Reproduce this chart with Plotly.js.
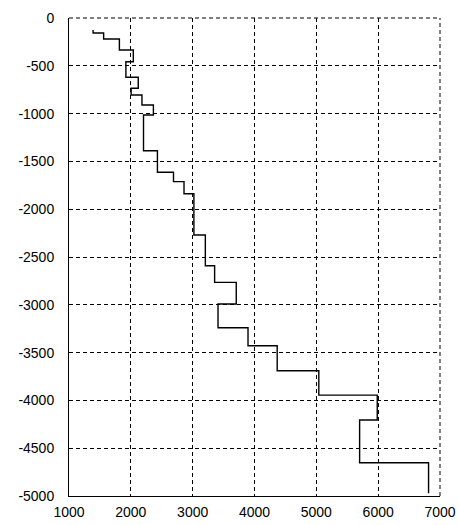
<!DOCTYPE html>
<html>
<head>
<meta charset="utf-8">
<script src="https://cdn.plot.ly/plotly-3.0.1.min.js"></script>
<style>
  html, body { margin: 0; padding: 0; background: #fff; }
  #plot { width: 459px; height: 525px; }
</style>
</head>
<body>
<div id="plot"></div>
<script>
// velocity of each layer and the depth of its top
const velocity = [1390, 1560, 1815, 2040, 1920, 2120, 2005, 2180, 2365, 2205, 2430, 2690, 2860, 3020, 3205, 3355, 3705, 3410, 3895, 4367, 5040, 5985, 5700, 6815];
const layerTop = [-126, -157, -220, -335, -457, -620, -735, -805, -910, -1015, -1388, -1614, -1712, -1838, -2270, -2591, -2765, -2992, -3240, -3428, -3690, -3945, -4205, -4652];
const bottomDepth = -4972;

const xTicks = [1000, 2000, 3000, 4000, 5000, 6000, 7000];
const yTicks = [0, -500, -1000, -1500, -2000, -2500, -3000, -3500, -4000, -4500, -5000];

// step profile: vertical within a layer, then horizontal to the next
const xs = velocity.concat([velocity[velocity.length - 1]]);
const ys = layerTop.concat([bottomDepth]);

const trace = {
    x: xs,
    y: ys,
    type: 'scatter',
    mode: 'lines',
    line: { shape: 'vh', color: '#000', width: 1.4 },
    hoverinfo: 'skip'
};

const axisFont = { family: 'Liberation Sans, Arial, sans-serif', size: 14, color: '#000' };
const gridDash = '4px,3px';

const layout = {
    width: 459,
    height: 525,
    margin: { l: 69, r: 19, t: 18, b: 29 },
    paper_bgcolor: '#fff',
    plot_bgcolor: '#fff',
    showlegend: false,
    xaxis: {
        range: [1000, 7000],
        tickvals: xTicks,
        ticktext: xTicks.map(String),
        showgrid: true,
        gridcolor: '#000',
        griddash: gridDash,
        gridwidth: 1,
        zeroline: false,
        showline: true,
        linecolor: '#000',
        linewidth: 1,
        ticks: '',
        ticklabelstandoff: 3,
        tickfont: axisFont
    },
    yaxis: {
        range: [-5000, 0],
        tickvals: yTicks,
        ticktext: yTicks.map(String),
        showgrid: true,
        gridcolor: '#000',
        griddash: gridDash,
        gridwidth: 1,
        zeroline: false,
        showline: true,
        linecolor: '#000',
        linewidth: 1,
        ticks: '',
        ticklabelstandoff: 11,
        tickfont: axisFont
    },
    shapes: [
        { type: 'line', xref: 'paper', yref: 'paper', x0: 0, x1: 1, y0: 1, y1: 1,
          line: { color: '#000', width: 1, dash: gridDash } },
        { type: 'line', xref: 'paper', yref: 'paper', x0: 1, x1: 1, y0: 0, y1: 1,
          line: { color: '#000', width: 1, dash: gridDash } }
    ]
};

Plotly.newPlot('plot', [trace], layout, { staticPlot: true });
</script>
</body>
</html>
